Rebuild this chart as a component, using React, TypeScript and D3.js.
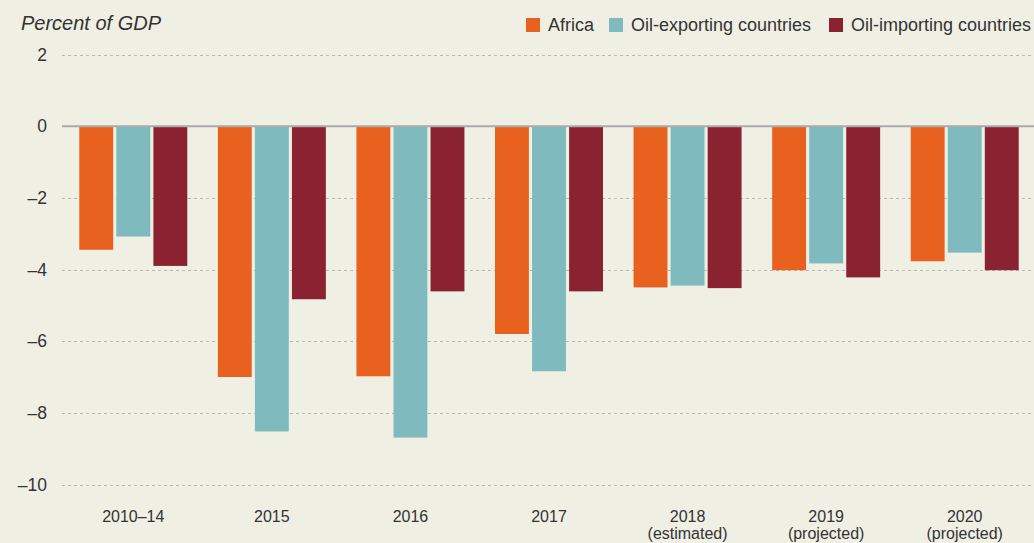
import React, { useEffect, useRef } from 'react';
import * as d3 from 'd3';

const categories = ['2010–14', '2015', '2016', '2017', '2018', '2019', '2020'];
const subLabels = ['', '', '', '', '(estimated)', '(projected)', '(projected)'];
const seriesNames = ['Africa', 'Oil-exporting countries', 'Oil-importing countries'];
const africa = [-3.45, -7.0, -6.98, -5.8, -4.5, -4.02, -3.77];
const oilExporting = [-3.08, -8.52, -8.69, -6.84, -4.45, -3.83, -3.53];
const oilImporting = [-3.9, -4.83, -4.61, -4.61, -4.52, -4.22, -4.02];
const yTicks = [2, 0, -2, -4, -6, -8, -10];
const colors = ['#E8611F', '#7FBBBE', '#8A2232'];

const W = 1034;
const H = 543;
const FONT = '"Liberation Sans", Arial, sans-serif';

const App = () => {
  const svgRef = useRef<SVGSVGElement>(null);

  useEffect(() => {
    const svg = d3.select(svgRef.current);
    svg.selectAll('*').remove();

    svg.append('rect').attr('width', W).attr('height', H).attr('fill', '#EFF0E3');

    const y = d3.scaleLinear().domain([2, -10]).range([54.5, 484.5]);
    const x0 = d3.scaleBand().domain(categories).range([64, 1034]).paddingInner(0).paddingOuter(0);
    const x1 = d3.scaleBand().domain(seriesNames).range([0, 108]).paddingInner(0.085);

    const series = [africa, oilExporting, oilImporting];

    // grid
    svg.append('g')
      .selectAll('line')
      .data(yTicks.filter((t) => t !== 0))
      .enter()
      .append('line')
      .attr('x1', 62)
      .attr('x2', W)
      .attr('y1', (d) => Math.round(y(d)) + 0.5)
      .attr('y2', (d) => Math.round(y(d)) + 0.5)
      .attr('stroke', '#b8b8b2')
      .attr('stroke-width', 1)
      .attr('stroke-dasharray', '3,3');

    // y labels
    svg.append('g')
      .selectAll('text')
      .data(yTicks)
      .enter()
      .append('text')
      .attr('x', 47)
      .attr('y', (d) => y(d))
      .attr('dy', '0.36em')
      .attr('text-anchor', 'end')
      .attr('font-family', FONT)
      .attr('font-size', 17.5)
      .attr('fill', '#333')
      .text((d) => (d < 0 ? `–${-d}` : `${d}`));

    // bars
    const groups = svg.append('g')
      .selectAll('g')
      .data(categories)
      .enter()
      .append('g')
      .attr('transform', (d) => `translate(${x0(d)! + (x0.bandwidth() - 108) / 2},0)`);

    groups.selectAll('rect')
      .data((d, i) => seriesNames.map((s, j) => ({ s, v: series[j][i], j })))
      .enter()
      .append('rect')
      .attr('x', (d) => x1(d.s)!)
      .attr('width', x1.bandwidth())
      .attr('y', y(0))
      .attr('height', (d) => y(d.v) - y(0))
      .attr('fill', (d) => colors[d.j]);

    // zero line
    svg.append('line')
      .attr('x1', 62)
      .attr('x2', W)
      .attr('y1', y(0))
      .attr('y2', y(0))
      .attr('stroke', '#aaaaaa')
      .attr('stroke-width', 2);

    // x labels
    const xl = svg.append('g');
    categories.forEach((c, i) => {
      const cx = x0(c)! + x0.bandwidth() / 2;
      xl.append('text')
        .attr('x', cx)
        .attr('y', 522)
        .attr('text-anchor', 'middle')
        .attr('font-family', FONT)
        .attr('font-size', 16)
        .attr('fill', '#333')
        .text(c);
      if (subLabels[i]) {
        xl.append('text')
          .attr('x', cx)
          .attr('y', 539)
          .attr('text-anchor', 'middle')
          .attr('font-family', FONT)
          .attr('font-size', 16)
          .attr('fill', '#333')
          .text(subLabels[i]);
      }
    });

    // axis title
    svg.append('text')
      .attr('x', 21)
      .attr('y', 30)
      .attr('font-family', FONT)
      .attr('font-size', 20)
      .attr('font-style', 'italic')
      .attr('fill', '#333')
      .text('Percent of GDP');

    // legend
    const legendX = [526, 609, 829];
    const lg = svg.append('g');
    seriesNames.forEach((s, i) => {
      lg.append('rect')
        .attr('x', legendX[i])
        .attr('y', 18)
        .attr('width', 14)
        .attr('height', 14)
        .attr('fill', colors[i]);
      lg.append('text')
        .attr('x', legendX[i] + 22)
        .attr('y', 31)
        .attr('font-family', FONT)
        .attr('font-size', 18)
        .attr('fill', '#333')
        .text(s);
    });
  }, []);

  return (
    <svg
      ref={svgRef}
      width={W}
      height={H}
      style={{ position: 'absolute', left: 0, top: 0, display: 'block' }}
    />
  );
};

export default App;
